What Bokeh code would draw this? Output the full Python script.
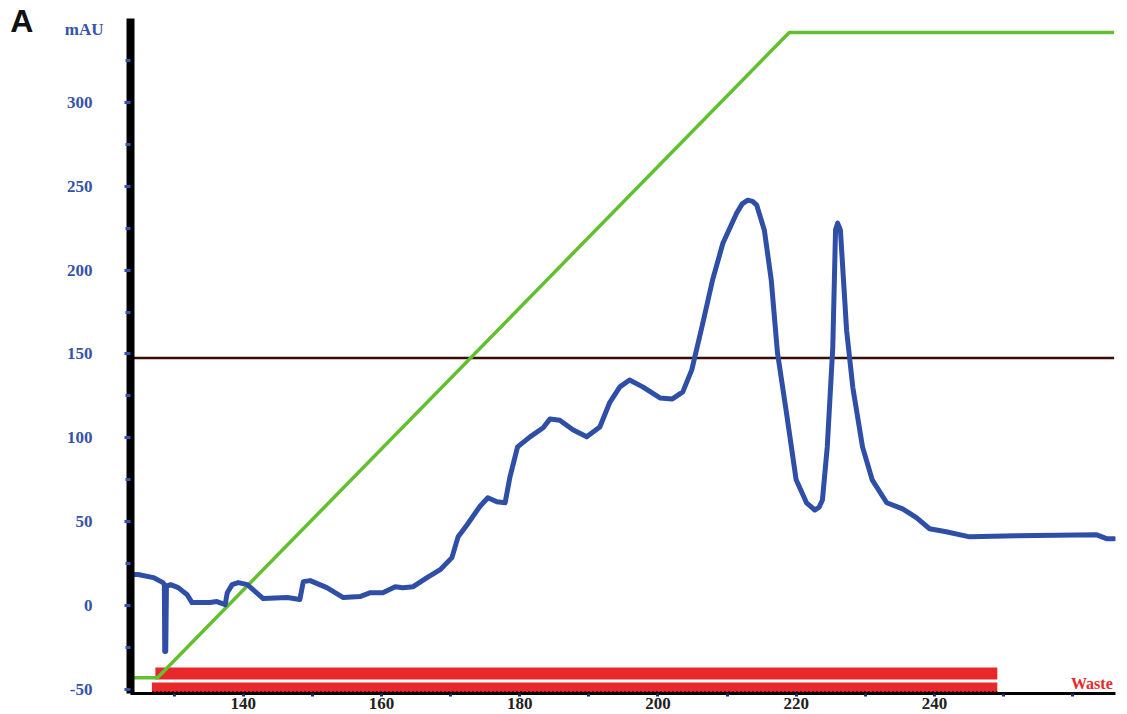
from bokeh.plotting import figure
from bokeh.models import Range1d, Label, FixedTicker, PrintfTickFormatter
from bokeh.embed import file_html
from bokeh.resources import INLINE

# ---- data ----
time_min = [124.0, 124.8, 127.0, 128.4, 128.6, 128.65, 128.8, 128.9, 129.5, 130.6, 131.9, 132.6,
            133.8, 135.2, 136.2, 137.4, 137.7, 138.4, 139.3, 140.6, 142.9, 146.4, 148.2,
            148.7, 149.7, 152.1, 154.5, 156.9, 158.4, 160.2, 162.0, 163.1, 164.6, 166.6,
            168.5, 170.2, 171.1, 172.4, 174.2, 175.4, 176.7, 177.9, 178.6, 179.7, 181.5,
            183.4, 184.4, 185.8, 187.7, 189.7, 191.6, 193.0, 194.5, 195.9, 197.8, 200.3,
            202.1, 203.6, 204.9, 206.5, 207.9, 209.4, 211.4, 212.2, 213.0, 213.7, 214.3,
            215.4, 216.4, 217.3, 218.6, 220.0, 221.5, 222.7, 223.3, 223.8, 224.5, 225.3,
            225.7, 226.0, 226.4, 227.3, 228.2, 229.6, 231.0, 233.1, 235.4, 237.4, 239.3,
            241.7, 245.1, 251.9, 263.4, 264.9, 266.0]
uv_mau = [18.5, 18.5, 16.7, 13.7, 12.5, -27.4, -27.4, 11.5, 12.5, 10.7, 6.5, 1.8,
          1.8, 1.8, 2.4, 0.6, 7.7, 12.5, 13.7, 12.5, 4.2, 4.8, 3.6,
          14.3, 14.9, 10.7, 4.8, 5.4, 7.7, 7.7, 11.3, 10.7, 11.3, 16.7,
          21.4, 28.6, 41.1, 48.2, 58.9, 64.3, 61.9, 61.3, 76.8, 94.6, 100.6,
          106.0, 111.3, 110.5, 104.8, 100.6, 106.5, 120.8, 130.4, 134.5, 130.4, 123.8,
          123.2, 127.4, 140.5, 168.5, 194.0, 216.0, 234.0, 239.5, 241.7, 241.0, 238.7,
          223.8, 194.0, 150.6, 114.9, 75.0, 61.3, 57.0, 58.5, 63.0, 94.6, 154.0,
          224.0, 228.0, 224.0, 164.0, 130.0, 94.6, 75.0, 61.3, 57.7, 52.4, 45.8,
          44.0, 41.0, 41.7, 42.3, 39.9, 39.9]

gradient_x = [124.0, 127.6, 219.0, 266.0]
gradient_y = [-43.0, -43.0, 341.7, 341.7]

threshold_x = [124.0, 266.0]
threshold_y = [147.6, 147.6]

frac_left = [127.3, 126.8]
frac_right = [249.1, 249.1]
frac_top = [-36.9, -45.8]
frac_bottom = [-44.0, -51.6]

x_major = [140, 160, 180, 200, 220, 240]
x_minor = [130, 150, 170, 190, 210, 230, 250, 260]
y_major = [-50, 0, 50, 100, 150, 200, 250, 300]
y_minor = [-25, 25, 75, 125, 175, 225, 275, 325]

BLUE = "#2f4fa6"
LABEL_BLUE = "#3553a8"

p = figure(width=1127, height=714, output_backend="svg", toolbar_location=None,
           x_range=Range1d(123.7, 266.2), y_range=Range1d(-52.4, 350),
           min_border_left=130, min_border_right=12, min_border_top=18, min_border_bottom=21)
p.outline_line_color = None
p.grid.visible = False
p.background_fill_color = "white"
p.border_fill_color = "white"

# fraction bands
p.quad(left=frac_left, right=frac_right, top=frac_top, bottom=frac_bottom,
       fill_color="#e8282b", line_color=None)
p.line(x=[frac_left[1], frac_right[1]], y=[frac_bottom[1] + 0.3, frac_bottom[1] + 0.3],
       line_color="black", line_width=1.5, line_dash="2 2", line_alpha=0.6)

# threshold line
p.line(threshold_x, threshold_y, line_color="#3a0c05", line_width=2.5)
# gradient
p.line(gradient_x, gradient_y, line_color="#62c030", line_width=3.5)
# UV trace
p.line(time_min, uv_mau, line_color=BLUE, line_width=5, line_join="round", line_cap="round")

# axes
xa = p.xaxis[0]
xa.ticker = FixedTicker(ticks=x_major, minor_ticks=x_minor)
xa.formatter = PrintfTickFormatter(format="%d")
xa.axis_line_color = "black"
xa.axis_line_width = 3
xa.major_tick_line_color = "#1a2a6a"
xa.major_tick_line_width = 3
xa.major_tick_out = 3
xa.major_tick_in = 0
xa.minor_tick_line_color = "#1a2a6a"
xa.minor_tick_line_width = 3
xa.minor_tick_out = 3
xa.minor_tick_in = 0
xa.major_label_standoff = 1
xa.major_label_text_font = "Liberation Serif"
xa.major_label_text_font_style = "bold"
xa.major_label_text_font_size = "17px"
xa.major_label_text_color = "#222222"

ya = p.yaxis[0]
ya.ticker = FixedTicker(ticks=y_major, minor_ticks=y_minor)
ya.formatter = PrintfTickFormatter(format="%d")
ya.axis_line_color = "black"
ya.axis_line_width = 8
ya.major_tick_line_color = LABEL_BLUE
ya.major_tick_line_width = 3
ya.major_tick_out = 6
ya.major_tick_in = 0
ya.minor_tick_line_color = LABEL_BLUE
ya.minor_tick_line_width = 3
ya.minor_tick_out = 5
ya.minor_tick_in = 0
ya.major_label_standoff = 32
ya.major_label_text_font = "Liberation Serif"
ya.major_label_text_font_style = "bold"
ya.major_label_text_font_size = "17px"
ya.major_label_text_color = LABEL_BLUE

# texts (placed in the left side panel so they are not clipped to the frame)
p.add_layout(Label(x=117.0, y=337.5, text="mAU", text_align="center", text_baseline="bottom",
                   text_font="Liberation Serif", text_font_style="bold",
                   text_font_size="17px", text_color=LABEL_BLUE), "left")
p.add_layout(Label(x=106.3, y=338.0, text="A", text_align="left", text_baseline="bottom",
                   text_font="Liberation Sans", text_font_style="bold",
                   text_font_size="32px", text_color="#111111"), "left")
p.add_layout(Label(x=265.8, y=-51.6, text="Waste", text_align="right", text_baseline="bottom",
                   text_font="Liberation Serif", text_font_style="bold",
                   text_font_size="16px", text_color="#e8282b"))

open("out.html", "w").write(file_html(p, INLINE))
